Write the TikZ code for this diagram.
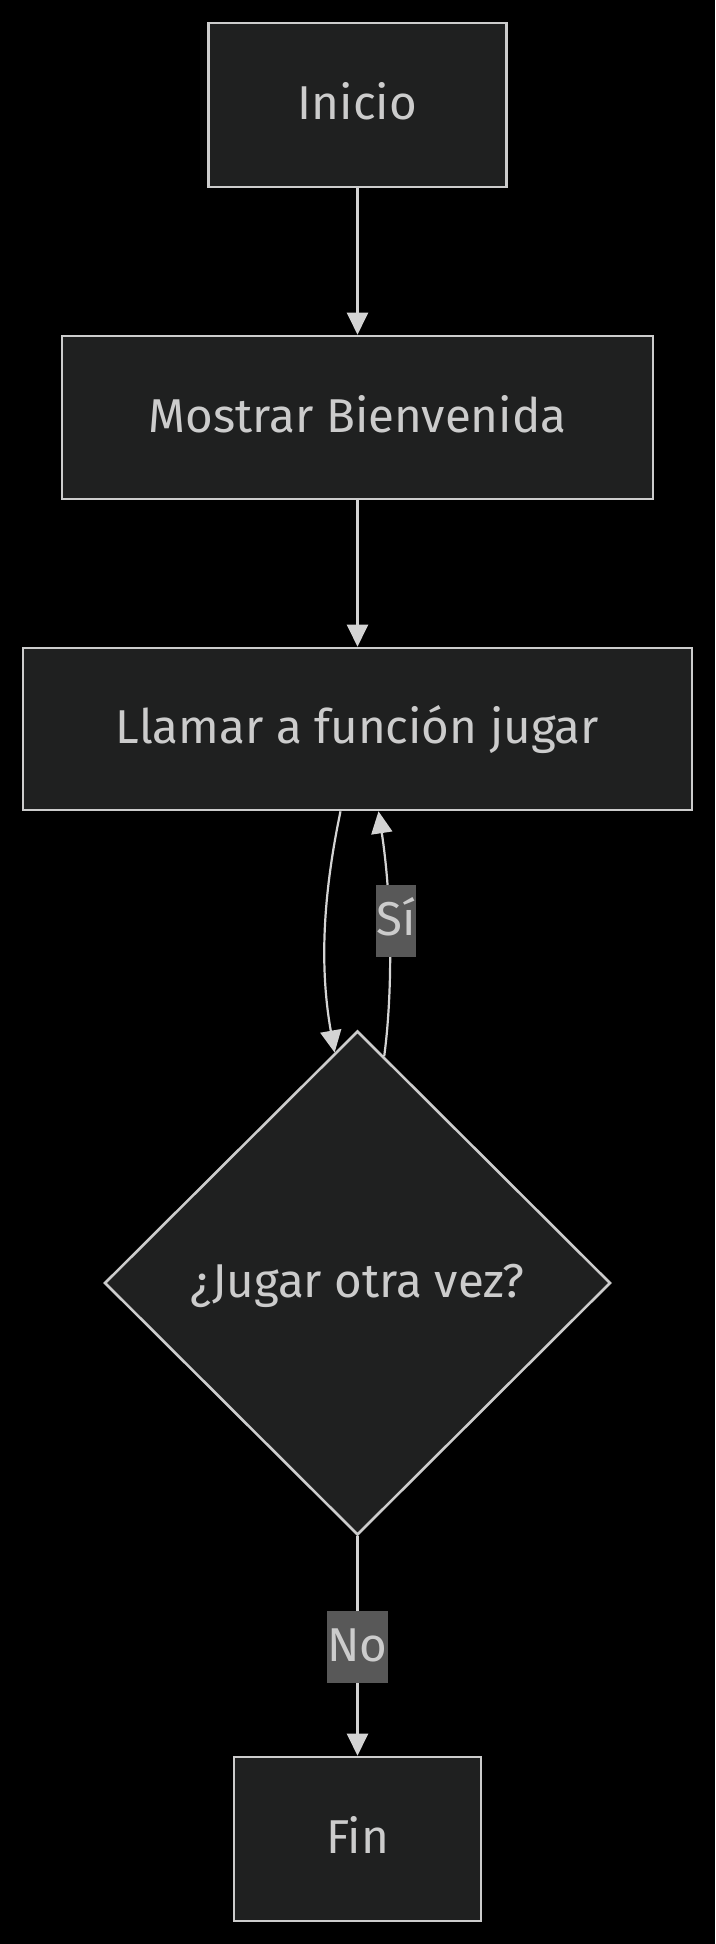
\documentclass[tikz,border=0pt]{standalone}
\usepackage{fontspec}
\setmainfont{Fira Sans}
\usetikzlibrary{shapes.geometric,arrows.meta,calc}
\definecolor{bgc}{HTML}{000000}
\definecolor{nodefill}{HTML}{1F2020}
\definecolor{nodeline}{HTML}{CCCCCC}
\definecolor{txt}{HTML}{CCCCCC}
\definecolor{edgec}{HTML}{D3D3D3}
\definecolor{lblbg}{HTML}{585858}
\tikzset{
  txtfont/.style={font=\fontsize{47.5}{56}\selectfont, text height=34pt, text depth=5pt},
  boxnode/.style={draw=nodeline, fill=nodefill, line width=2.6pt, inner sep=0pt,
    text=txt, txtfont},
  decnode/.style={diamond, draw=nodeline, fill=nodefill, line width=2.6pt, inner sep=0pt,
    text=txt, txtfont, minimum width=506pt, minimum height=504pt},
  lblnode/.style={fill=lblbg, inner sep=0pt, text=txt, txtfont},
  flow/.style={draw=edgec, line width=2.2pt, -{Triangle[length=22pt,width=21pt]}},
}
\begin{document}
\begin{tikzpicture}[x=1pt,y=-1pt]
\useasboundingbox[fill=bgc] (0,0) rectangle (715,1944);
\node[boxnode, minimum width=298pt, minimum height=164pt] (inicio) at (357.5,105) {Inicio};
\node[boxnode, minimum width=591pt, minimum height=163pt] (mostrar) at (357.5,417.5) {Mostrar Bienvenida};
\node[boxnode, minimum width=669pt, minimum height=162pt] (llamar) at (357.5,729) {Llamar a función jugar};
\node[decnode] (jugar) at (357.5,1283) {¿Jugar otra vez?};
\node[boxnode, minimum width=247pt, minimum height=164pt] (fin) at (357.5,1839) {Fin};
\draw[flow] (inicio.south) -- (mostrar.north);
\draw[flow] (mostrar.south) -- (llamar.north);
\draw[flow] ([xshift=-17pt]llamar.south) .. controls (322,900) and (320,970) .. ($(jugar.north)!0.09!(jugar.west)$);
\draw[flow] ($(jugar.north)!0.105!(jugar.east)$) .. controls (393,990) and (392,900) .. ([xshift=21pt]llamar.south);
\node[lblnode, minimum width=36pt, minimum height=72pt] (si) at (396,921) {Sí};
\draw[flow] (jugar.south) -- (fin.north);
\node[lblnode, minimum width=57pt, minimum height=72pt] (no) at (357.5,1647) {No};
\end{tikzpicture}
\end{document}
